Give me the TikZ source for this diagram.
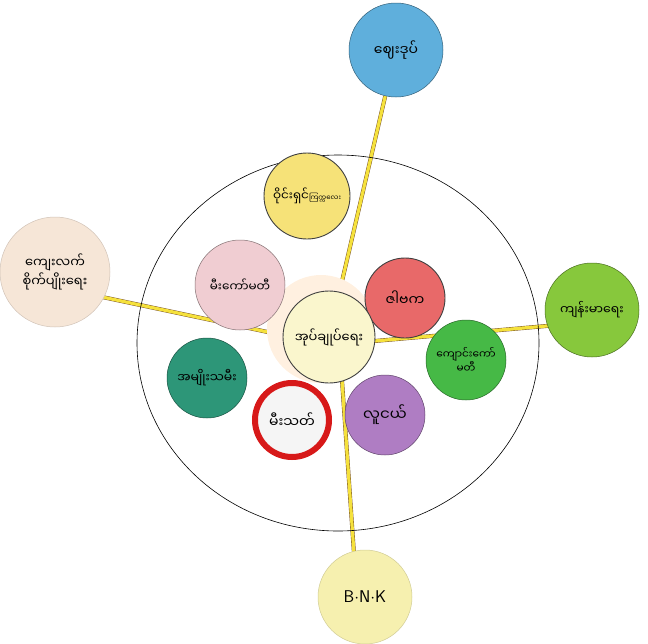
\documentclass[tikz,border=0pt]{standalone}
\usepackage{fontspec}
\newfontfamily\mya[Script=Myanmar]{Noto Sans Myanmar UI}
\usetikzlibrary{backgrounds}
\definecolor{cBlue}{RGB}{95,175,220}
\definecolor{cYel}{RGB}{246,226,120}
\definecolor{cPink}{RGB}{240,205,210}
\definecolor{cRose}{RGB}{232,105,105}
\definecolor{cCen}{RGB}{250,246,205}
\definecolor{cGreen}{RGB}{70,185,70}
\definecolor{cTeal}{RGB}{45,150,120}
\definecolor{cRed}{RGB}{215,25,25}
\definecolor{cPurp}{RGB}{175,125,195}
\definecolor{cBeige}{RGB}{246,230,215}
\definecolor{cLime}{RGB}{135,200,60}
\definecolor{cBnk}{RGB}{246,240,175}
\definecolor{cLine}{RGB}{245,225,60}
\begin{document}
\begin{tikzpicture}[x=1pt,y=-1pt]
\useasboundingbox (0,0) rectangle (648,643);
\tikzset{
  bub/.style={circle, draw=#1!55!black, line width=0.5pt, fill=#1, inner sep=0pt,
    align=center, font=\mya\fontsize{12}{14}\selectfont, text=black},
  ink/.style={draw=black!75, line width=0.9pt},
  link/.style={draw=brown!60!black, line width=0.4pt, double=cLine, double distance=3.2pt}
}
% big circle
\draw[line width=0.6pt] (338,343) ellipse [x radius=201, y radius=188];
% halo behind centre
\fill[orange!12] (321,329) circle [radius=54];
% nodes
\node[bub=cBlue, minimum size=94pt, font=\mya\fontsize{14}{16}\selectfont] (blu) at (396,50) {ဈေးဒုပ်};
\node[bub=cYel, ink, minimum size=86pt] (yel) at (307,196) {ဝိုင်းရှင်{\fontsize{7}{8}\selectfont ကြက္ကလေး}};
\node[bub=cPink, minimum size=90pt] (pnk) at (240,285) {မီးကော်မတီ};
\node[bub=cRose, ink, minimum size=80pt, font=\mya\fontsize{14}{16}\selectfont] (ros) at (405,298) {ဇါဗက};
\node[bub=cCen, ink, minimum size=92pt, font=\mya\fontsize{13}{15}\selectfont] (cen) at (329,337) {အုပ်ချုပ်ရေး};
\node[bub=cGreen, minimum size=80pt, font=\mya\fontsize{10.5}{12}\selectfont] (grn) at (466,360) {ကျောင်းကော်\\မတီ};
\node[bub=cTeal, minimum size=80pt, font=\mya\fontsize{12.5}{14}\selectfont] (tea) at (207,378) {အမျိုးသမီး};
\node[circle, draw=cRed, line width=6pt, fill=gray!8, minimum size=74pt, inner sep=0pt, font=\mya\fontsize{14}{16}\selectfont] (red) at (292,420) {မီးသတ်};
\node[bub=cPurp, minimum size=80pt, font=\mya\fontsize{15}{17}\selectfont] (pur) at (385,415) {လူငယ်};
\node[bub=cBeige, draw=cBeige!85!black, minimum size=110pt, font=\mya\fontsize{13}{17}\selectfont] (lft) at (55,272) {ကျေးလက်\\စိုက်ပျိုးရေး};
\node[bub=cLime, minimum size=94pt, font=\mya\fontsize{12.5}{14}\selectfont] (rgt) at (592,310) {ကျန်းမာရေး};
\node[bub=cBnk, draw=cBnk!85!black, minimum size=94pt, font=\sffamily\fontsize{17}{19}\selectfont] (bnk) at (365,597) {B$\cdot$N$\cdot$K};
% connectors
\begin{scope}[on background layer]
\draw[link] (cen) -- (blu);
\draw[link] ([yshift=-8pt]cen.center) -- ([yshift=-15pt]lft.center);
\draw[link] ([yshift=-8pt]cen.center) -- ([yshift=-12pt]rgt.center);
\draw[link] ([xshift=10pt]cen.center) -- ([xshift=-8pt]bnk.center);
\end{scope}
\end{tikzpicture}
\end{document}
